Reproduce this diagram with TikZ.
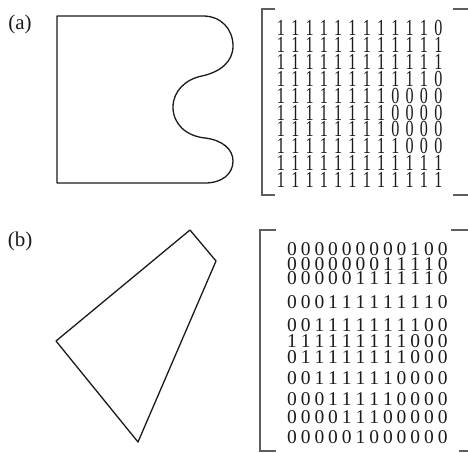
\documentclass[tikz,border=0pt]{standalone}
\usepackage{fontspec}
\setmainfont{Liberation Serif}
\usetikzlibrary{positioning}
\definecolor{inkdark}{HTML}{1A1A1A}
\definecolor{bracketgray}{HTML}{5E5E5E}
\tikzset{
  outline/.style={draw=inkdark,line width=1.3pt,line join=round},
  bracket/.style={draw=bracketgray,line width=1.9pt},
  digitA/.style={inner sep=0pt,font=\fontsize{23}{23}\selectfont,xscale=0.7,text=inkdark},
  digitB/.style={inner sep=0pt,font=\fontsize{19.5}{19.5}\selectfont,text=inkdark},
  partlabel/.style={inner sep=0pt,font=\fontsize{21}{21}\selectfont,text=inkdark},
}
\begin{document}
\begin{tikzpicture}[x=1pt,y=-1pt]
  \useasboundingbox (0,0) rectangle (468,452);
  \node[partlabel] (lbl-a) at (20,24) {(a)};
  \node[partlabel] (lbl-b) at (20,241) {(b)};
  \draw[outline] (203,16) -- (57,16) -- (57,183) -- (205,183)
    .. controls (222,183) and (233,174) .. (233,161)
    .. controls (233,149) and (222,140) .. (205,138)
    .. controls (186,136) and (173,124) .. (173,107)
    .. controls (173,91) and (186,79) .. (202,76)
    .. controls (220,72) and (233,62) .. (233,46)
    .. controls (233,29) and (221,16) .. (203,16) -- cycle;
  \draw[outline] (190,230) -- (216,261) -- (138,442) -- (56,341) -- cycle;
  \draw[bracket] (275,9) -- (262,9) -- (262,195) -- (275,195);
  \draw[bracket] (453,9) -- (469,9) -- (469,195) -- (453,195);
  \draw[bracket] (276,230) -- (260,230) -- (260,451) -- (276,451);
  \draw[bracket] (451,230) -- (469,230) -- (469,451) -- (459,451);
  \foreach \rowlist [count=\r] in {
      {1,1,1,1,1,1,1,1,1,1,1,0},{1,1,1,1,1,1,1,1,1,1,1,1},
      {1,1,1,1,1,1,1,1,1,1,1,1},{1,1,1,1,1,1,1,1,1,1,1,0},
      {1,1,1,1,1,1,1,1,0,0,0,0},{1,1,1,1,1,1,1,1,0,0,0,0},
      {1,1,1,1,1,1,1,1,0,0,0,0},{1,1,1,1,1,1,1,1,1,0,0,0},
      {1,1,1,1,1,1,1,1,1,1,1,1},{1,1,1,1,1,1,1,1,1,1,1,1}}
    \foreach \d [count=\c] in \rowlist
      \node[digitA] (pa-\r-\c) at ({281+14.3*(\c-1)},{28+16.9*(\r-1)}) {\d};
  \foreach \rowlist/\ypos [count=\r] in {
      {0,0,0,0,0,0,0,0,0,1,0,0}/249,{0,0,0,0,0,0,0,1,1,1,1,0}/264,
      {0,0,0,0,0,1,1,1,1,1,1,0}/278,{0,0,0,1,1,1,1,1,1,1,1,0}/302,
      {0,0,1,1,1,1,1,1,1,1,0,0}/325,{1,1,1,1,1,1,1,1,1,0,0,0}/341,
      {0,1,1,1,1,1,1,1,1,0,0,0}/357,{0,0,1,1,1,1,1,1,0,0,0,0}/378,
      {0,0,0,1,1,1,1,1,0,0,0,0}/399,{0,0,0,0,1,1,1,0,0,0,0,0}/417,
      {0,0,0,0,0,1,0,0,0,0,0,0}/437}
    \foreach \d [count=\c] in \rowlist
      \node[digitB] (pb-\r-\c) at ({292+13.7*(\c-1)},\ypos) {\d};
\end{tikzpicture}
\end{document}
